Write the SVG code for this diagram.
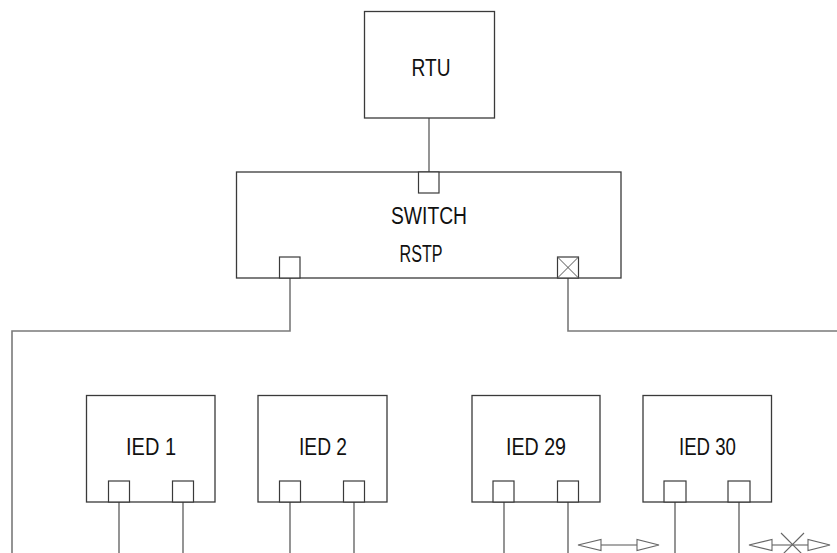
<svg xmlns="http://www.w3.org/2000/svg" width="837" height="553" viewBox="0 0 837 553">
<style>
.box{fill:#fff;stroke:#3a3a3a;stroke-width:1.3}
.port{fill:#fff;stroke:#3a3a3a;stroke-width:1.2}
.wire{fill:none;stroke:#7a7a7a;stroke-width:1.6}
.lbl{font-family:"Liberation Sans",Arial,sans-serif;font-size:23px;fill:#111}
.arr{fill:#fff;stroke:#666;stroke-width:1.1}
</style>
<rect width="837" height="553" fill="#fff"/>
<g id="connectors">
<line class="wire" x1="429" y1="118" x2="429" y2="172"/>
<polyline class="wire" points="290,278 290,331 12,331 12,553"/>
<polyline class="wire" points="568,278 568,331 837,331"/>
<line class="wire" x1="119" y1="502" x2="119" y2="553"/>
<line class="wire" x1="183" y1="502" x2="183" y2="553"/>
<line class="wire" x1="290" y1="502" x2="290" y2="553"/>
<line class="wire" x1="354" y1="502" x2="354" y2="553"/>
<line class="wire" x1="504" y1="502" x2="504" y2="553"/>
<line class="wire" x1="568" y1="502" x2="568" y2="553"/>
<line class="wire" x1="675" y1="502" x2="675" y2="553"/>
<line class="wire" x1="739" y1="502" x2="739" y2="553"/>
<g id="link-ok">
<line x1="601" y1="545" x2="637" y2="545" stroke="#555" stroke-width="1.1"/>
<polygon class="arr" points="578,545 601,539.5 601,550.5"/>
<polygon class="arr" points="659,545 637,539.5 637,550.5"/>
</g>
<g id="link-blocked">
<line x1="772" y1="545" x2="808" y2="545" stroke="#555" stroke-width="1.1"/>
<polygon class="arr" points="749,545 772,539.5 772,550.5"/>
<polygon class="arr" points="830,545 808,539.5 808,550.5"/>
<line x1="781" y1="533" x2="804" y2="556" stroke="#666" stroke-width="1.1"/>
<line x1="804" y1="533" x2="781" y2="556" stroke="#666" stroke-width="1.1"/>
</g>
</g>
<g id="rtu">
<rect class="box" x="364.5" y="11.5" width="130" height="106.5"/>
<text class="lbl" x="431" y="76" text-anchor="middle" textLength="39" lengthAdjust="spacingAndGlyphs">RTU</text>
</g>
<g id="switch">
<rect class="box" x="236.5" y="172" width="384.5" height="106"/>
<rect class="port" x="418.5" y="172" width="20.5" height="21"/>
<rect class="port" x="279.5" y="257" width="20.5" height="21"/>
<rect class="port" x="557.5" y="257" width="21" height="21"/>
<path d="M557.5,257 L578.5,278 M578.5,257 L557.5,278" stroke="#555" stroke-width="1" fill="none"/>
<text class="lbl" x="429" y="224" text-anchor="middle" textLength="76" lengthAdjust="spacingAndGlyphs">SWITCH</text>
<text class="lbl" x="421" y="262" text-anchor="middle" textLength="43" lengthAdjust="spacingAndGlyphs">RSTP</text>
</g>
<g id="ied1">
<rect class="box" x="86.5" y="395.5" width="128.5" height="106.5"/>
<rect class="port" x="108.5" y="481" width="21" height="21"/>
<rect class="port" x="172.5" y="481" width="21" height="21"/>
<text class="lbl" x="151" y="455" text-anchor="middle" textLength="50" lengthAdjust="spacingAndGlyphs">IED 1</text>
</g>
<g id="ied2">
<rect class="box" x="258" y="395.5" width="129" height="106.5"/>
<rect class="port" x="279.5" y="481" width="21" height="21"/>
<rect class="port" x="343.5" y="481" width="21" height="21"/>
<text class="lbl" x="323" y="455" text-anchor="middle" textLength="48" lengthAdjust="spacingAndGlyphs">IED 2</text>
</g>
<g id="ied29">
<rect class="box" x="472" y="395.5" width="128" height="106.5"/>
<rect class="port" x="493" y="481" width="21" height="21"/>
<rect class="port" x="557.5" y="481" width="21" height="21"/>
<text class="lbl" x="536" y="455" text-anchor="middle" textLength="60" lengthAdjust="spacingAndGlyphs">IED 29</text>
</g>
<g id="ied30">
<rect class="box" x="643" y="395.5" width="128.5" height="106.5"/>
<rect class="port" x="664" y="481" width="22" height="21"/>
<rect class="port" x="728" y="481" width="22" height="21"/>
<text class="lbl" x="707.5" y="455" text-anchor="middle" textLength="57" lengthAdjust="spacingAndGlyphs">IED 30</text>
</g>
</svg>
